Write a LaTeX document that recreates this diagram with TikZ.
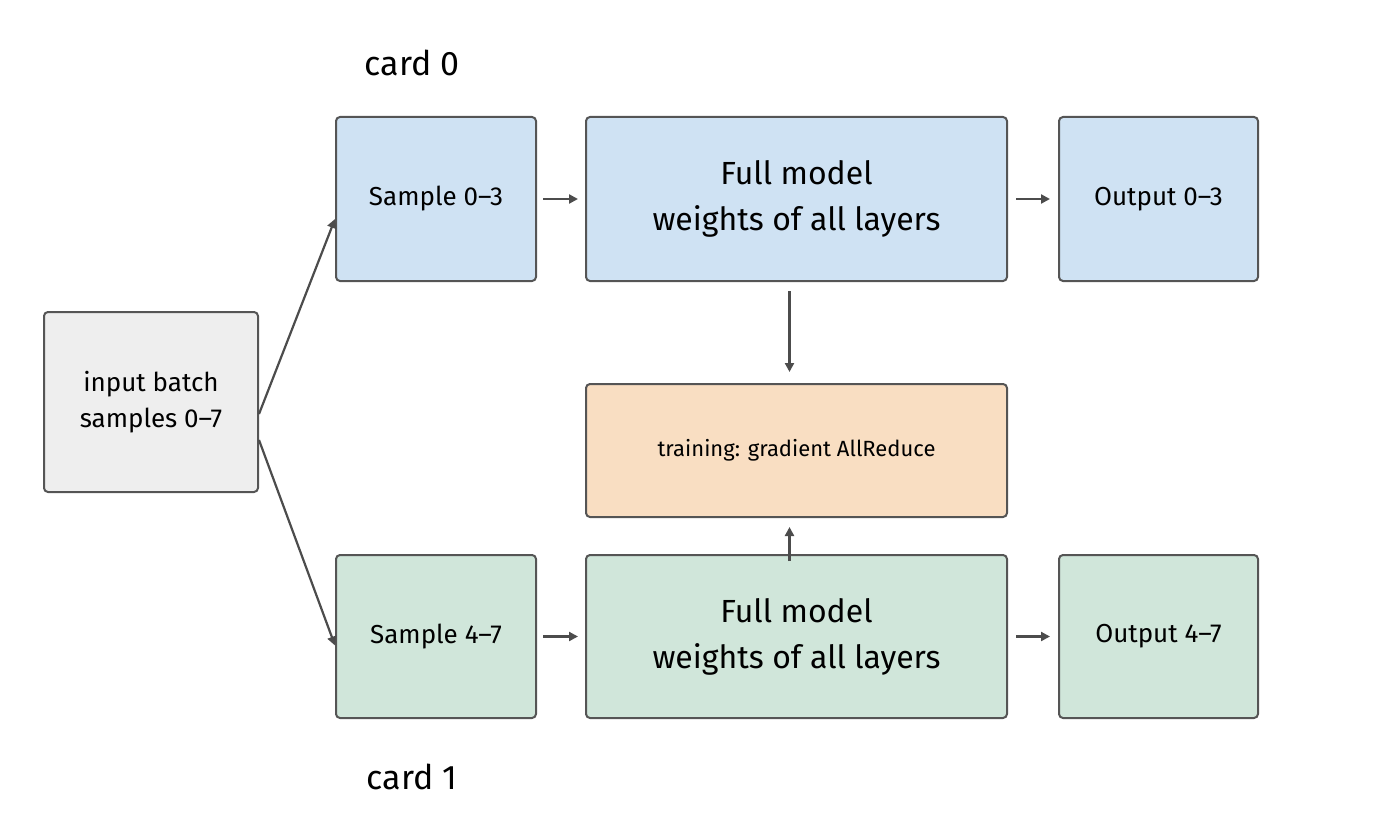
\documentclass[tikz,border=0pt]{standalone}
\usepackage{fontspec}
\setmainfont{Fira Sans}
\usetikzlibrary{arrows.meta}
\definecolor{bl}{HTML}{CFE2F3}
\definecolor{gr}{HTML}{D0E6DA}
\definecolor{gy}{HTML}{EEEEEE}
\definecolor{or}{HTML}{F9DEC2}
\definecolor{ln}{HTML}{555555}
\tikzset{box/.style={draw=ln,line width=2pt,rounded corners=4pt,inner sep=0pt,align=center,text=black!85},
arr/.style={-{Triangle[length=9pt,width=9pt]},line width=2.2pt,draw=ln!90!black}}
\newcommand{\bx}[7]{\node[box,fill=#6,minimum width=#3-#2,minimum height=#5-#4,font=#7] (#1) at ({(#2+#3)/2},{(#4+#5)/2}) {};}
\begin{document}
\begin{tikzpicture}[x=1pt,y=-1pt]
\useasboundingbox (0,0) rectangle (1400,821);
\bx{inp}{44}{258}{312}{492}{gy}{}
\node[font=\fontsize{26}{36}\selectfont,align=center] at (inp) {input batch\\samples 0–7};
\bx{s0}{336}{536}{117}{281}{bl}{}
\node[font=\fontsize{26}{32}\selectfont] at (s0) {Sample 0–3};
\bx{m0}{586}{1007}{117}{281}{bl}{}
\node[font=\fontsize{32}{46}\selectfont,align=center] at (m0) {Full model\\weights of all layers};
\bx{o0}{1059}{1258}{117}{281}{bl}{}
\node[font=\fontsize{26}{32}\selectfont] at (o0) {Output 0–3};
\bx{tr}{586}{1007}{384}{517}{or}{}
\node[font=\fontsize{22}{28}\selectfont] at (tr) {training: gradient AllReduce};
\bx{s1}{336}{536}{555}{718}{gr}{}
\node[font=\fontsize{26}{32}\selectfont] at (s1) {Sample 4–7};
\bx{m1}{586}{1007}{555}{718}{gr}{}
\node[font=\fontsize{32}{46}\selectfont,align=center] at (m1) {Full model\\weights of all layers};
\bx{o1}{1059}{1258}{555}{718}{gr}{}
\node[font=\fontsize{26}{32}\selectfont] at (o1) {Output 4–7};
\node[font=\fontsize{34}{40}\selectfont] (c0) at (412,63) {card 0};
\node[font=\fontsize{34}{40}\selectfont] (c1) at (412,777) {card 1};
\draw[arr] ([yshift=-12pt]inp.east) -- ([yshift=-20pt]s0.west);
\draw[arr] ([yshift=-38pt]inp.east) -- ([yshift=-9pt]s1.west);
\draw[arr] ([xshift=6pt]s0.east) -- ([xshift=-7pt]m0.west);
\draw[arr] ([xshift=6pt]s1.east) -- ([xshift=-7pt]m1.west);
\draw[arr] ([xshift=8pt]m0.east) -- ([xshift=-8pt]o0.west);
\draw[arr] ([xshift=8pt]m1.east) -- ([xshift=-8pt]o1.west);
\draw[arr] ([xshift=-7pt,yshift=-9pt]m0.south) -- ([xshift=-7pt,yshift=11pt]tr.north);
\draw[arr] ([xshift=-7pt,yshift=-7pt]m1.north) -- ([xshift=-7pt,yshift=-9pt]tr.south);
\end{tikzpicture}
\end{document}
